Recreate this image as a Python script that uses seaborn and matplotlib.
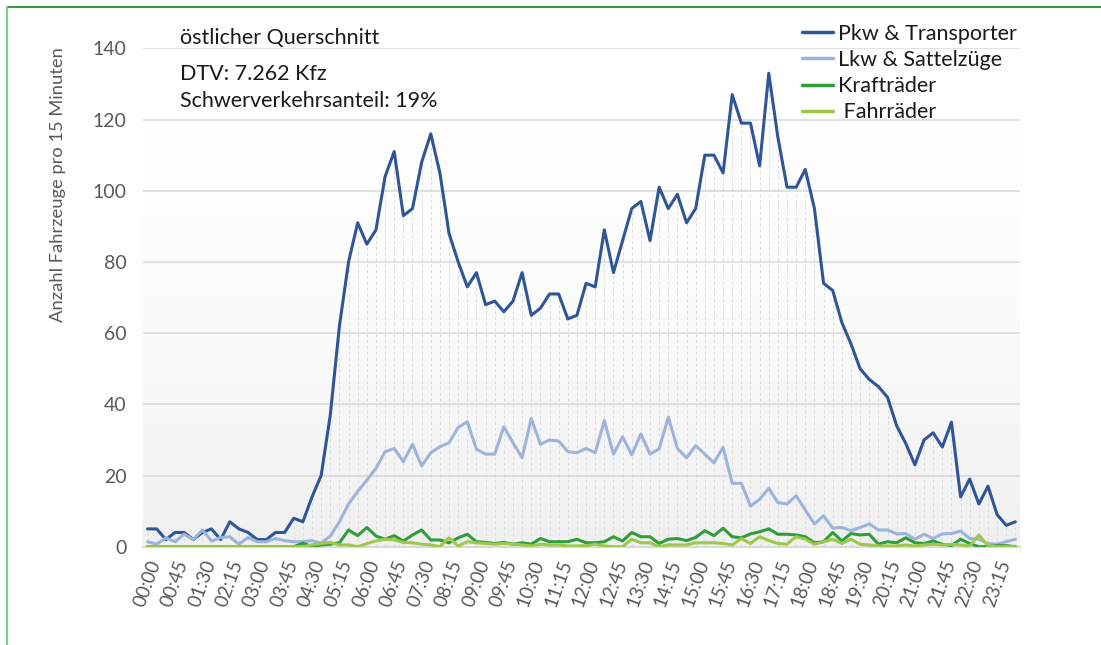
import numpy as np
import pandas as pd
import matplotlib
matplotlib.use("Agg")
import matplotlib.pyplot as plt
from matplotlib.lines import Line2D
from matplotlib.colors import LinearSegmentedColormap
import seaborn as sns

# ---------------- data ----------------
time_slots = [f"{h:02d}:{m:02d}" for h in range(24) for m in (0, 15, 30, 45)]

pkw = [5, 5, 2, 4, 4, 2, 4, 5, 2, 7, 5, 4, 2, 2, 4, 4,
       8, 7, 14, 20, 37, 62, 80, 91, 85, 89, 104, 111, 93, 95, 108, 116,
       105, 88, 80, 73, 77, 68, 69, 66, 69, 77, 65, 67, 71, 71, 64, 65,
       74, 73, 89, 77, 86, 95, 97, 86, 101, 95, 99, 91, 95, 110, 110, 105,
       127, 119, 119, 107, 133, 115, 101, 101, 106, 95, 74, 72, 63, 57, 50, 47,
       45, 42, 34, 29, 23, 30, 32, 28, 35, 14, 19, 12, 17, 9, 6, 7]

lkw = [1.4, 0.7, 2.5, 1.4, 3.5, 2, 4.7, 1.6, 2.6, 2.8, 0.7, 2.6, 1.4, 1.4, 2.3, 1.7,
       1.4, 1.4, 1.7, 1, 3, 7, 12, 15.5, 18.7, 22, 26.7, 27.6, 23.9, 28.8, 22.7, 26.4,
       28.1, 29.2, 33.5, 35.1, 27.4, 26, 26, 33.7, 29.2, 25, 36, 28.8, 30, 29.7, 26.7, 26.4,
       27.6, 26.4, 35.4, 26, 30.9, 25.8, 31.7, 26, 27.5, 36.4, 27.6, 25, 28.4, 26, 23.6, 27.9,
       17.8, 17.8, 11.4, 13.3, 16.4, 12.4, 12, 14.3, 10.3, 6.4, 8.7, 5.2, 5.4, 4.5, 5.4, 6.4,
       4.7, 4.7, 3.6, 3.7, 2.1, 3.5, 2.3, 3.6, 3.7, 4.4, 2.3, 2.1, 0.9, 0.7, 1.4, 2.1]

kraftraeder = [0, 0, 0, 0, 0, 0, 0, 0, 0, 0, 0, 0, 0, 0, 0, 0,
               0, 1, 0, 0.5, 0.7, 1.1, 4.7, 3.1, 5.4, 3, 2.1, 3.1, 1.6, 3.3, 4.7, 1.9,
               1.9, 1.1, 2.5, 3.5, 1.4, 1.2, 0.9, 1.2, 0.7, 1.1, 0.7, 2.3, 1.4, 1.4, 1.4, 2.1,
               1.1, 1.1, 1.4, 2.8, 1.6, 4, 2.8, 2.8, 0.9, 2.1, 2.3, 1.7, 2.6, 4.5, 3.1, 5.2,
               2.8, 2.5, 3.6, 4.2, 5, 3.5, 3.5, 3.3, 2.8, 1.1, 1.4, 4, 1.6, 3.7, 3.3, 3.5,
               0.7, 1.4, 1.1, 2.5, 1.1, 0.9, 1.6, 0.7, 0.3, 2.1, 0.9, 0, 0, 0.3, 0.3, 0]

fahrraeder = [0, 0, 0, 0, 0, 0, 0, 0, 0, 0, 0, 0, 0, 0, 0, 0,
              0, 0, 0.5, 0.9, 1.2, 0.5, 0.5, 0, 0.9, 1.6, 2.1, 1.9, 1.2, 1.1, 0.7, 0.5,
              0, 2.5, 0.2, 1.4, 1.1, 0.9, 0.7, 0.9, 0.7, 0.5, 0.2, 0.7, 0.5, 0.5, 0.2, 0.2,
              0.3, 0.7, 0.2, 0, 0, 2.1, 1.1, 1.1, 0, 0.5, 0.5, 0.5, 1.1, 1.1, 1.1, 0.9,
              0.5, 2.3, 0.9, 2.8, 1.7, 0.9, 0.7, 2.8, 2.1, 0.7, 1.4, 2.1, 0.9, 2.1, 0.7, 0.5,
              0.2, 0.2, 0.2, 0.5, 0.2, 0.5, 0.7, 0.5, 0.7, 0.5, 0.2, 3.3, 0.2, 0, 0, 0]

series_names = ["Pkw & Transporter", "Lkw & Sattelzüge", "Krafträder", "Fahrräder"]
legend_labels = ["Pkw & Transporter", "Lkw & Sattelzüge", "Krafträder", " Fahrräder"]
series_colors = ["#2f5597", "#9db3dc", "#2e9e3a", "#9cc94a"]

tick_every = 3
y_ticks = [0, 20, 40, 60, 80, 100, 120, 140]

title_lines = ["östlicher Querschnitt", "DTV: 7.262 Kfz", "Schwerverkehrsanteil: 19%"]
y_label = "Anzahl Fahrzeuge pro 15 Minuten"

# ---------------- frame ----------------
df = pd.DataFrame({
    "idx": list(range(len(time_slots))) * 4,
    "value": pkw + lkw + kraftraeder + fahrraeder,
    "series": sum([[n] * len(time_slots) for n in series_names], []),
})

sns.set_theme(style="white")
plt.rcParams["font.family"] = ["Lato", "DejaVu Sans"]

fig = plt.figure(figsize=(11.01, 6.45), dpi=100)
ax = fig.add_axes([0.1299, 0.1524, 0.7965, 0.7726])

n = len(time_slots)
xlim = (-0.5, n - 0.5)
ymax = 140

# background gradient
grad = np.linspace(0, 1, 256).reshape(-1, 1)
cmap = LinearSegmentedColormap.from_list("bg", ["#ffffff", "#fcfcfc", "#f0f0f0"])
ax.imshow(grad, extent=[xlim[0], xlim[1], 0, ymax], aspect="auto", cmap=cmap,
          zorder=-2, interpolation="bicubic")

# drop lines
ax.vlines(range(n), 0, pkw, colors="#dadada", linestyles=(0, (4, 3)), lw=0.6, zorder=1)

sns.lineplot(data=df, x="idx", y="value", hue="series", hue_order=series_names,
             palette=series_colors, linewidth=2.2, legend=False, sort=False,
             estimator=None, ax=ax, zorder=3)

ax.set_xlim(*xlim)
ax.set_ylim(0, ymax)
ax.set_yticks(y_ticks)
ax.set_yticklabels([str(t) for t in y_ticks])
ax.yaxis.grid(True, color="#d9d9d9", lw=1.1, zorder=0)
ax.xaxis.grid(False)
ax.set_axisbelow(True)

ticks = list(range(0, n, tick_every))
ax.set_xticks(ticks)
ax.set_xticklabels([time_slots[i] for i in ticks], rotation=70, ha="right",
                   rotation_mode="anchor", fontsize=13.5, color="#595959")
ax.tick_params(axis="y", labelsize=14, labelcolor="#595959", length=0, pad=12)
ax.tick_params(axis="x", length=0, pad=8)

for s in ["top", "right", "left"]:
    ax.spines[s].set_visible(False)
ax.spines["bottom"].set_color("#d9d9d9")
ax.spines["bottom"].set_linewidth(1.5)
ax.set_xlabel("")
ax.set_ylabel("")

fig.text(58 / 1101, 1 - 185 / 645, y_label, rotation=90, ha="center", va="center",
         fontsize=13.2, color="#595959")

ys = [38, 74, 101]
for t, yy in zip(title_lines, ys):
    fig.text(180 / 1101, 1 - yy / 645, t, ha="left", va="center", fontsize=15.5, color="#1a1a1a")

handles = [Line2D([0], [0], color=c, lw=2.5) for c in series_colors]
leg = ax.legend(handles, legend_labels, loc="upper left",
                bbox_to_anchor=(802 / 1101, 1 - 24 / 645), bbox_transform=fig.transFigure,
                frameon=False, fontsize=15.5, handlelength=1.45, handletextpad=0.2,
                labelspacing=0.28, borderaxespad=0, borderpad=0)
for t in leg.get_texts():
    t.set_color("#1a1a1a")

# figure border lines (green)
fig.add_artist(Line2D([7 / 1101, 1], [1 - 7 / 645, 1 - 7 / 645], transform=fig.transFigure,
                      color="#3a9a4a", lw=1.5))
fig.add_artist(Line2D([7 / 1101, 7 / 1101], [0, 1 - 7 / 645], transform=fig.transFigure,
                      color="#7fcf90", lw=1.5))

fig.savefig("out.png", dpi=100)
